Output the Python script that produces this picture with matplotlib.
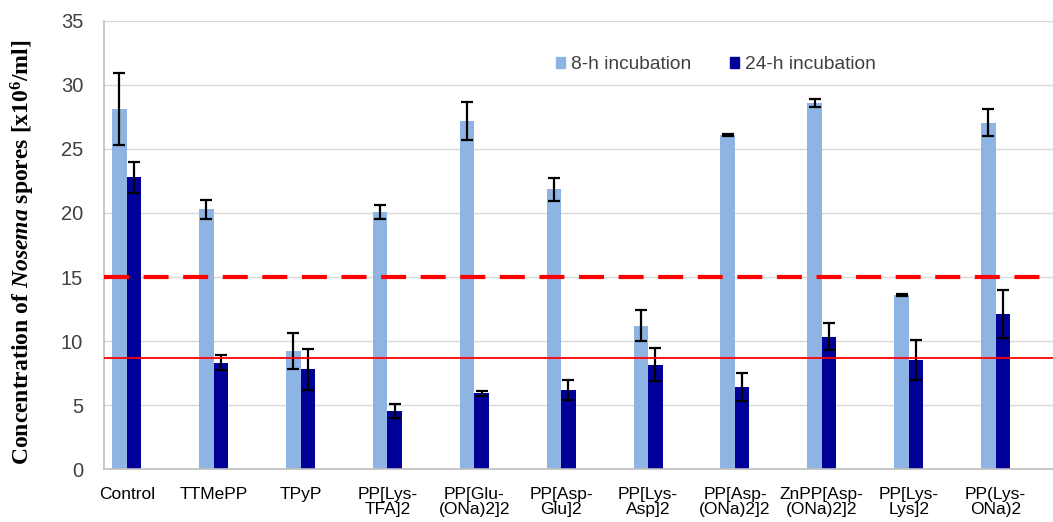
import numpy as np
import matplotlib
matplotlib.use("Agg")
import matplotlib.pyplot as plt
from matplotlib.patches import Patch

# Spore counts per treatment (x10^6 / ml), mean and SD
compounds = ["Control", "TTMePP", "TPyP", "PP[Lys-\nTFA]2", "PP[Glu-\n(ONa)2]2",
             "PP[Asp-\nGlu]2", "PP[Lys-\nAsp]2", "PP[Asp-\n(ONa)2]2",
             "ZnPP[Asp-\n(ONa)2]2", "PP[Lys-\nLys]2", "PP(Lys-\nONa)2"]
mean_8h = [28.1, 20.3, 9.25, 20.1, 27.2, 21.85, 11.2, 26.1, 28.57, 13.6, 27.05]
sd_8h = [2.8, 0.75, 1.4, 0.55, 1.5, 0.9, 1.2, 0.08, 0.3, 0.1, 1.05]
mean_24h = [22.8, 8.3, 7.8, 4.55, 5.9, 6.17, 8.15, 6.43, 10.34, 8.5, 12.1]
sd_24h = [1.2, 0.6, 1.6, 0.55, 0.2, 0.75, 1.3, 1.1, 1.05, 1.55, 1.9]
threshold_dashed = 15.0
threshold_solid = 8.7

plt.rcParams['mathtext.fontset'] = 'custom'
plt.rcParams['mathtext.rm'] = 'Liberation Serif:bold'
plt.rcParams['mathtext.it'] = 'Liberation Serif:bold:italic'

fig = plt.figure(figsize=(10.53, 5.22), dpi=100)
ax = fig.add_axes([0.0988, 0.1015, 0.9012, 0.8583])

x = np.arange(len(compounds))
w = 0.167
err_kw = dict(ecolor="black", elinewidth=1.6, capsize=4.5, capthick=1.6)
ax.bar(x - w / 2, mean_8h, w, yerr=sd_8h, color="#8db4e2", error_kw=err_kw, zorder=2)
ax.bar(x + w / 2, mean_24h, w, yerr=sd_24h, color="#000099", error_kw=err_kw, zorder=2)

ax.axhline(threshold_dashed, color="#ff0000", lw=3, dashes=(6, 3.5), zorder=3)
ax.axhline(threshold_solid, color="#ff0000", lw=1.3, zorder=3)

ax.set_xlim(-0.261, 10.66)
ax.set_ylim(0, 35)
ax.set_yticks(range(0, 36, 5))
ax.yaxis.grid(True, color="#d9d9d9", lw=1)
ax.set_axisbelow(True)

for s in ["top", "right"]:
    ax.spines[s].set_visible(False)
for s in ["left", "bottom"]:
    ax.spines[s].set_color("#bfbfbf")
    ax.spines[s].set_linewidth(1.2)

ax.tick_params(axis="both", length=0)
ax.tick_params(axis="y", pad=15, labelsize=14.5, labelcolor="#404040")
ax.set_xticks(x)
ax.set_xticklabels(compounds, fontsize=12.5, color="black", linespacing=1.0,
                   family=["Liberation Sans Narrow", "Liberation Sans"])
ax.tick_params(axis="x", pad=13)
for lbl in ax.get_yticklabels():
    lbl.set_family("Liberation Sans")

ax.set_ylabel(r"Concentration of $\mathit{Nosema}$ spores [x10$^{6}$/ml]",
              family="Liberation Serif", weight="bold", fontsize=17)
ax.yaxis.set_label_coords(-0.071, 0.484)

handles = [Patch(color="#8db4e2", label="8-h incubation"),
           Patch(color="#000099", label="24-h incubation")]
ax.legend(handles=handles, loc="upper left", bbox_to_anchor=(0.458, 0.96), ncol=2,
          frameon=False, handlelength=0.5, handleheight=0.5,
          handletextpad=0.3, columnspacing=2.0,
          prop={"family": "Liberation Sans", "size": 13.8})
for t in ax.get_legend().get_texts():
    t.set_color("#404040")

fig.savefig("out.png", dpi=100)
